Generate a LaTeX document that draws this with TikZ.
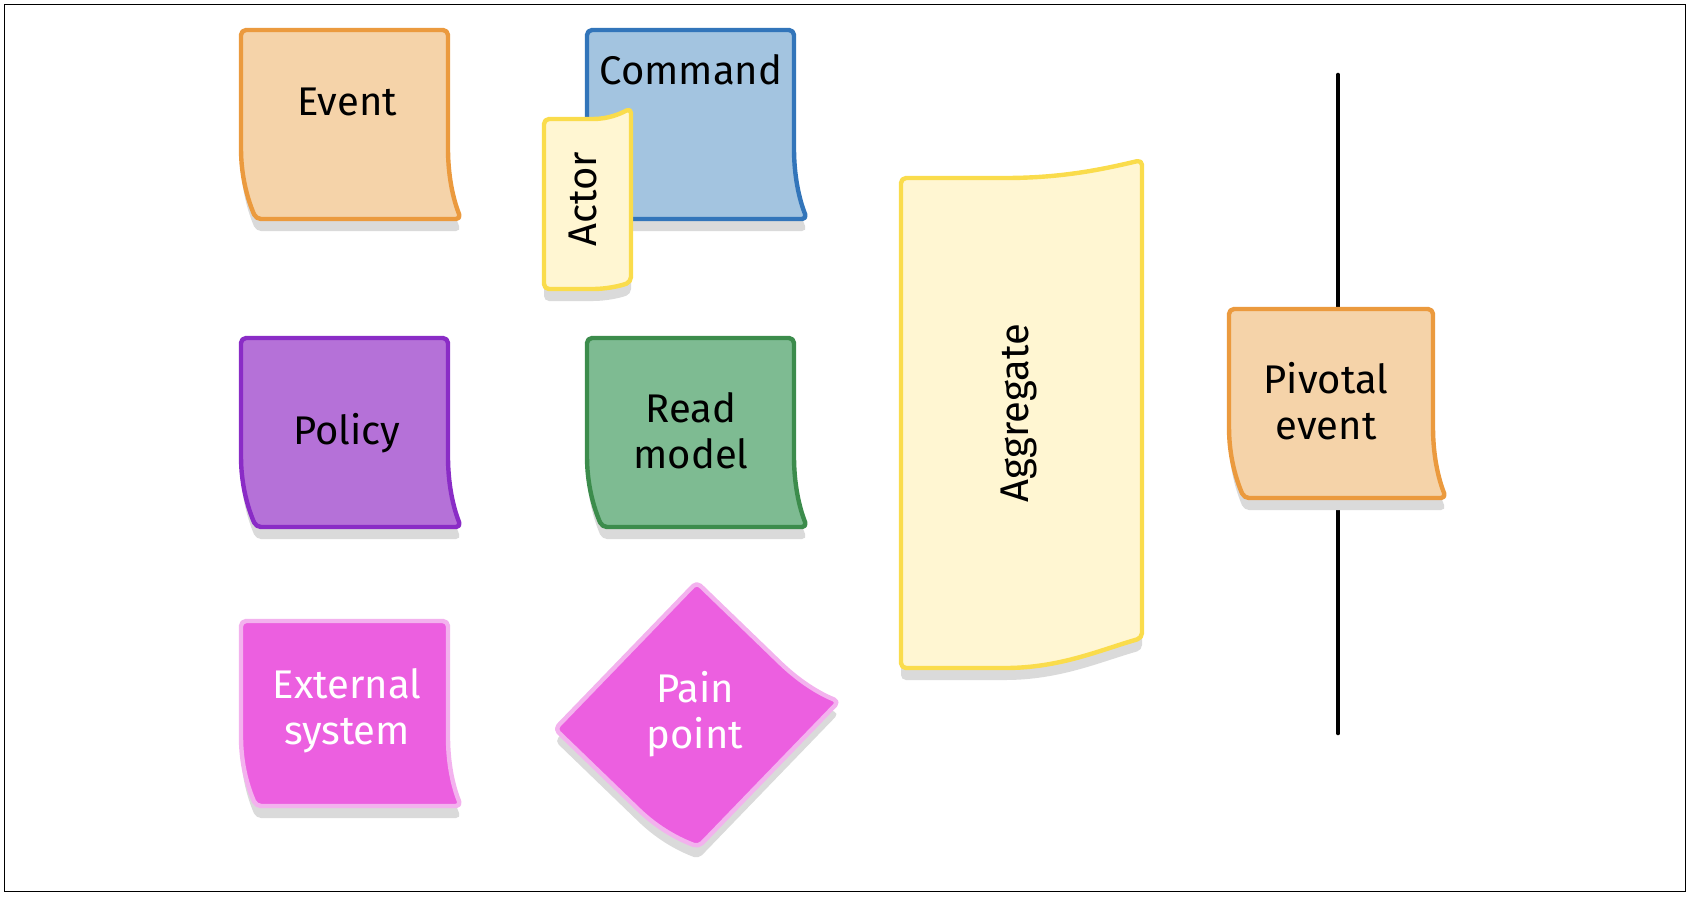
\documentclass[tikz,border=0pt]{standalone}
\usepackage{fontspec}
\setmainfont{Fira Sans}
\definecolor{evfill}{HTML}{F5D3A9}
\definecolor{evdraw}{HTML}{EB9A3E}
\definecolor{cmfill}{HTML}{A3C4E0}
\definecolor{cmdraw}{HTML}{3275BA}
\definecolor{yfill}{HTML}{FFF6D2}
\definecolor{ydraw}{HTML}{FADC4C}
\definecolor{pofill}{HTML}{B571D8}
\definecolor{podraw}{HTML}{8A2CC6}
\definecolor{rmfill}{HTML}{7EBB92}
\definecolor{rmdraw}{HTML}{3C8C4C}
\definecolor{pkfill}{HTML}{EC5FE0}
\definecolor{pkdraw}{HTML}{F3B2EE}
\definecolor{shadowc}{HTML}{DADADA}
\tikzset{
  lbl/.style={font=\fontsize{20}{23}\selectfont, align=center, text=black, inner sep=0pt},
  wlbl/.style={lbl, text=white},
  edgeline/.style={line width=2.2pt, rounded corners=2.5pt, line join=round},
  shadowfill/.style={fill=shadowc, rounded corners=2.5pt},
}
\newcommand\stickypath[4]{(#1,#2) -- (#1+#3,#2) -- (#1+#3,#2+0.6*#4) .. controls (#1+#3,#2+0.8*#4) and (#1+#3+7,#2+0.92*#4) .. (#1+#3+13,#2+#4) -- (#1+15,#2+#4) .. controls (#1+7,#2+0.9*#4) and (#1,#2+0.78*#4) .. (#1,#2+0.6*#4) -- cycle}
\newcommand\drawsticky[6]{%
  \fill[shadowfill, shift={(0,12)}] \stickypath{#1}{#2}{#3}{#4};
  \filldraw[fill=#5, draw=#6, edgeline] \stickypath{#1}{#2}{#3}{#4};}
\begin{document}
\begin{tikzpicture}[x=0.5pt, y=-0.5pt]
\useasboundingbox (0,0) rectangle (1690,896);
\draw[line width=0.6pt] (4.5,4.5) rectangle (1685.5,891.5);

% Event
\drawsticky{241}{30}{207}{189}{evfill}{evdraw}
\node[lbl] (event) at (347,102) {Event};

% Command
\drawsticky{587}{30}{207}{189}{cmfill}{cmdraw}
\node[lbl] (command) at (691,70) {Command};

% Actor
\fill[shadowfill, shift={(0,12)}] (544,119) -- (588,119) .. controls (608,119) and (620,114) .. (631,108) -- (631,282) .. controls (620,286) and (606,289) .. (588,289) -- (544,289) -- cycle;
\filldraw[fill=yfill, draw=ydraw, edgeline] (544,119) -- (588,119) .. controls (608,119) and (620,114) .. (631,108) -- (631,282) .. controls (620,286) and (606,289) .. (588,289) -- (544,289) -- cycle;
\node[lbl, rotate=90] (actor) at (583,199) {Actor};

% Policy
\drawsticky{241}{338}{207}{189}{pofill}{podraw}
\node[lbl] (policy) at (347,433) {Policy};

% Read model
\drawsticky{587}{338}{207}{189}{rmfill}{rmdraw}
\node[lbl] (readmodel) at (691,431) {Read\\model};

% External system
\drawsticky{241}{621}{207}{185}{pkfill}{pkdraw}
\node[wlbl] (external) at (347,711) {External\\system};

% Pain point
\begin{scope}[shift={(555,741)}, rotate=46]
  \fill[shadowfill] \stickypath{0}{0}{204}{185};
\end{scope}
\begin{scope}[shift={(555,729)}, rotate=46]
  \filldraw[fill=pkfill, draw=pkdraw, edgeline] \stickypath{0}{0}{204}{185};
\end{scope}
\node[wlbl] (pain) at (695,714) {Pain\\point};

% Aggregate
\fill[shadowfill, shift={(0,12)}] (901,178) -- (1000,178) .. controls (1060,178) and (1100,170) .. (1142,160) -- (1142,638) .. controls (1100,650) and (1060,668) .. (1000,668) -- (901,668) -- cycle;
\filldraw[fill=yfill, draw=ydraw, edgeline] (901,178) -- (1000,178) .. controls (1060,178) and (1100,170) .. (1142,160) -- (1142,638) .. controls (1100,650) and (1060,668) .. (1000,668) -- (901,668) -- cycle;
\node[lbl, rotate=90] (aggregate) at (1019,413) {Aggregate};

% Pivotal line and event
\coordinate (ptop) at (1338,75);
\coordinate (pbot) at (1338,733);
\draw[line width=2.3pt, line cap=round] (ptop) -- (pbot);
\drawsticky{1229}{309}{204}{189}{evfill}{evdraw}
\node[lbl] (pivotal) at (1326,401) {Pivotal\\event};
\end{tikzpicture}
\end{document}
